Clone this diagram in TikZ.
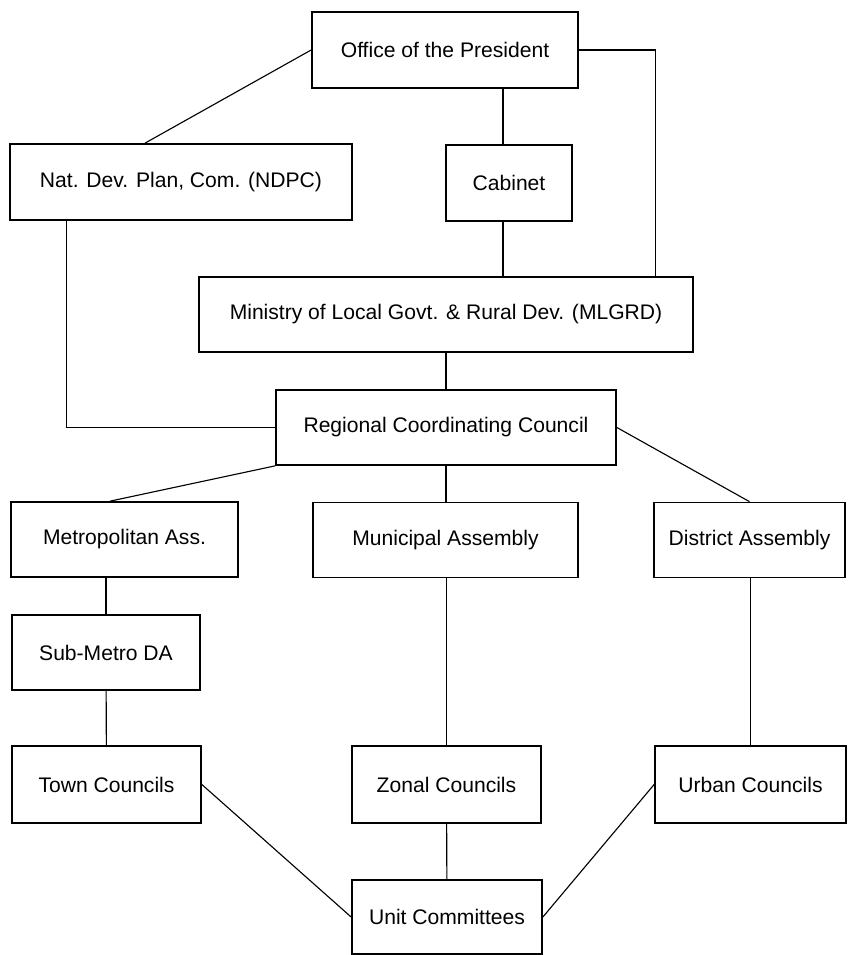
\documentclass[tikz,border=0pt]{standalone}
\usepackage{fontspec}
\setmainfont{Liberation Sans}
\usepackage{tikz}
\usetikzlibrary{arrows,positioning}

\begin{document}
\begin{tikzpicture}[x=0.025cm,y=-0.025cm,line width=0.8pt,
                    font=\fontsize{15}{18}\selectfont]
  \tikzstyle{block}=[rectangle,draw=black,line width=1.2pt,minimum height=1.875cm,inner sep=0pt]

  \useasboundingbox (0,0) rectangle (848,955);

  \node[block,minimum width=6.65cm,minimum height=1.9cm]  (pres)  at (445,50)    {Office of the President};
  \node[block,minimum width=8.55cm,minimum height=1.9cm]  (ndpc)  at (181,182)   {Nat. Dev. Plan, Com. (NDPC)};
  \node[block,minimum width=3.15cm,minimum height=1.9cm]  (cab)   at (509,183)   {Cabinet};
  \node[block,minimum width=12.35cm] (mlgrd) at (446,314.5) {Ministry of Local Govt. \& Rural Dev. (MLGRD)};
  \node[block,minimum width=8.5cm]   (rcc)   at (446,427.5) {Regional Coordinating Council};
  \node[block,minimum width=5.675cm] (metro) at (124.5,539.5) {Metropolitan Ass.};
  \node[block,minimum width=6.625cm] (muni)  at (445.5,540) {Municipal Assembly};
  \node[block,minimum width=4.775cm] (dist)  at (749.5,540) {District Assembly};
  \node[block,minimum width=4.7cm]   (sub)   at (106,652.5) {Sub-Metro DA};
  \node[block,minimum width=4.725cm,minimum height=1.925cm] (town)  at (106.5,784.5) {Town Councils};
  \node[block,minimum width=4.725cm,minimum height=1.925cm] (zonal) at (446.5,784.5) {Zonal Councils};
  \node[block,minimum width=4.775cm,minimum height=1.925cm] (urban) at (750.5,784.5) {Urban Councils};
  \node[block,minimum width=4.75cm,minimum height=1.85cm]   (unit)  at (447,917)    {Unit Committees};

  % top level
  \draw (pres.west) -- ([xshift=-0.9cm]ndpc.north);
  \draw ([xshift=-0.15cm]cab.north |- pres.south) -- ([xshift=-0.15cm]cab.north);
  \draw ([xshift=-0.15cm]cab.south) -- ([xshift=-0.15cm]cab.south |- mlgrd.north);
  \draw (pres.east) -| ([xshift=-0.95cm]mlgrd.north east);
  \draw ([xshift=1.425cm]ndpc.south west) |- (rcc.west);

  % regional level
  \path (mlgrd) edge (rcc)
        (rcc.south west) edge ([xshift=-0.36cm]metro.north)
        (rcc.east) edge (dist.north);
  \draw (muni.north -| rcc.south) -- (rcc.south);

  % assemblies and councils
  \draw (sub.north |- metro.south) -- (sub.north);
  \path (sub) edge (town);
  \draw (zonal.north |- muni.south) -- (zonal.north);
  \draw (urban.north |- dist.south) -- (urban.north);

  % unit committees
  \path (town.east) edge (unit.west)
        (zonal) edge (unit)
        (urban.west) edge (unit.east);
\end{tikzpicture}
\end{document}
